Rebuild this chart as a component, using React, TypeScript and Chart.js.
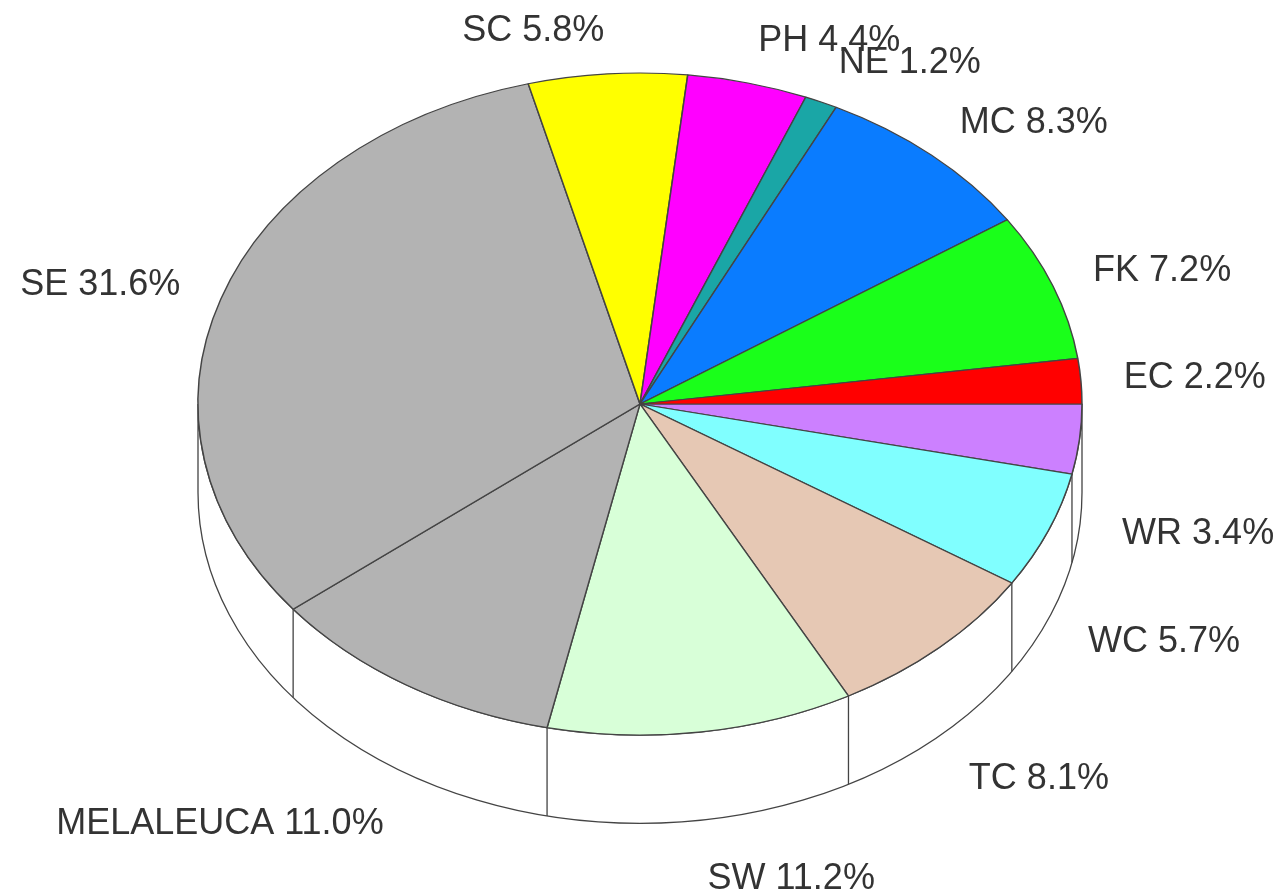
import React, { useEffect, useRef } from "react";
import { Chart, registerables } from "chart.js";

Chart.register(...registerables);

// Slices listed clockwise starting at 3 o'clock
const categories = ["WR", "WC", "TC", "SW", "MELALEUCA", "SE", "SC", "PH", "NE", "MC", "FK", "EC"];
const shares = [3.4, 5.7, 8.1, 11.2, 11.0, 31.6, 5.8, 4.4, 1.2, 8.3, 7.2, 2.2];
const sliceColors = [
  "#CC80FF",
  "#80FFFF",
  "#E6C8B4",
  "#D8FFD8",
  "#B3B3B3",
  "#B3B3B3",
  "#FFFF00",
  "#FF00FF",
  "#1AA6A6",
  "#0A7CFF",
  "#1AFF1A",
  "#FF0000",
];

const TILT = 0.749; // vertical squash of the pie top
const DEPTH_RATIO = 0.2; // side wall height relative to radius
const EDGE = "#444444";

const pie3dPlugin = {
  id: "pie3d",
  beforeDatasetsDraw(chart: any) {
    const meta = chart.getDatasetMeta(0);
    const arcs = meta.data;
    if (!arcs.length) return;
    const ctx = chart.ctx;
    const cx = arcs[0].x;
    const cy = arcs[0].y;
    const R = arcs[0].outerRadius;
    const ry = R * TILT;
    const D = R * DEPTH_RATIO;
    ctx.save();
    ctx.beginPath();
    ctx.ellipse(cx, cy + D, R, ry, 0, 0, Math.PI, false);
    ctx.lineTo(cx - R, cy);
    ctx.ellipse(cx, cy, R, ry, 0, Math.PI, 0, true);
    ctx.closePath();
    ctx.fillStyle = "#FFFFFF";
    ctx.fill();
    ctx.strokeStyle = EDGE;
    ctx.lineWidth = 1.3;
    ctx.stroke();
    // vertical edges at slice boundaries on the front half
    ctx.beginPath();
    arcs.forEach((arc: any) => {
      let a = arc.startAngle % (Math.PI * 2);
      if (a < 0) a += Math.PI * 2;
      if (a > 0.001 && a < Math.PI - 0.001) {
        const x = cx + R * Math.cos(a);
        const y = cy + ry * Math.sin(a);
        ctx.moveTo(x, y);
        ctx.lineTo(x, y + D);
      }
    });
    ctx.stroke();
    ctx.restore();

    ctx.save();
    ctx.translate(cx, cy);
    ctx.scale(1, TILT);
    ctx.translate(-cx, -cy);
  },
  afterDatasetsDraw(chart: any) {
    const ctx = chart.ctx;
    ctx.restore();
    const meta = chart.getDatasetMeta(0);
    const arcs = meta.data;
    if (!arcs.length) return;
    const cx = arcs[0].x;
    const cy = arcs[0].y;
    const R = arcs[0].outerRadius;
    const ry = R * TILT;
    const D = R * DEPTH_RATIO;
    ctx.save();
    ctx.font = "36px 'Liberation Sans', Arial, sans-serif";
    ctx.fillStyle = "#333333";
    ctx.textBaseline = "middle";
    arcs.forEach((arc: any, i: number) => {
      const mid = (arc.startAngle + arc.endAngle) / 2;
      const c = Math.cos(mid);
      const s = Math.sin(mid);
      const x = cx + 1.097 * R * c;
      const y = s > 0 ? cy + 1.18 * ry * s + D : cy + 1.13 * ry * s;
      ctx.textAlign = c >= 0 ? "left" : "right";
      ctx.fillText(`${categories[i]} ${shares[i].toFixed(1)}%`, x, y);
    });
    ctx.restore();
  },
};

export default function App() {
  const canvasRef = useRef<HTMLCanvasElement | null>(null);

  useEffect(() => {
    if (!canvasRef.current) return;
    const chart = new Chart(canvasRef.current, {
      type: "pie",
      data: {
        labels: categories,
        datasets: [
          {
            data: shares,
            backgroundColor: sliceColors,
            borderColor: EDGE,
            borderWidth: 1.5,
            clip: false,
          } as any,
        ],
      },
      options: {
        responsive: false,
        animation: false,
        rotation: 90,
        radius: 442,
        layout: { padding: { left: 0, right: 0, top: 0, bottom: 86 } },
        plugins: {
          legend: { display: false },
          tooltip: { enabled: false },
        },
      },
      plugins: [pie3dPlugin],
    });
    return () => chart.destroy();
  }, []);

  return (
    <div style={{ position: "absolute", left: 0, top: 0, width: 1280, height: 894, background: "#FFFFFF" }}>
      <canvas ref={canvasRef} width={1280} height={894} style={{ width: 1280, height: 894, display: "block" }} />
    </div>
  );
}
